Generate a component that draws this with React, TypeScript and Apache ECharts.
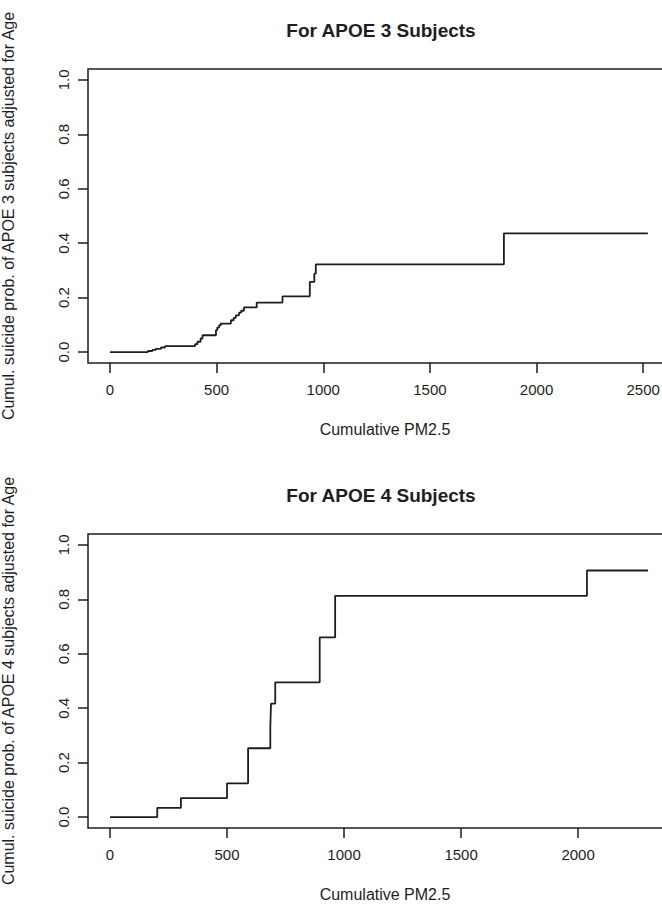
import React, { useEffect, useRef } from "react";
import * as echarts from "echarts";

// Step curve of APOE 3 subjects (x = cumulative PM2.5, y = cumulative probability)
const apoe3X = [0, 178, 199, 215, 239, 258, 399, 410, 425, 434, 497, 503, 512, 520, 567, 580, 590, 605, 615, 628, 688, 809, 937, 958, 965, 1847, 2522];
const apoe3Y = [0, 0.004, 0.008, 0.012, 0.017, 0.022, 0.029, 0.038, 0.05, 0.062, 0.081, 0.09, 0.099, 0.105, 0.117, 0.126, 0.135, 0.145, 0.152, 0.164, 0.182, 0.205, 0.258, 0.288, 0.322, 0.436, 0.436];

// Step curve of APOE 4 subjects
const apoe4X = [0, 202, 303, 500, 590, 685, 688, 706, 896, 962, 2038, 2299];
const apoe4Y = [0, 0.034, 0.07, 0.124, 0.253, 0.334, 0.417, 0.495, 0.66, 0.813, 0.906, 0.906];

const xTicks3 = [0, 500, 1000, 1500, 2000, 2500];
const xTicks4 = [0, 500, 1000, 1500, 2000];
const yTicks = [0, 0.2, 0.4, 0.6, 0.8, 1.0];

const titles = ["For APOE 3 Subjects", "For APOE 4 Subjects"];
const yNames = [
  "Cumul. suicide prob. of APOE 3 subjects adjusted for Age",
  "Cumul. suicide prob. of APOE 4 subjects adjusted for Age",
];
const xName = "Cumulative PM2.5";

const FONT = "'Liberation Sans', Arial, Helvetica, sans-serif";
const INK = "#1e1e1e";

export default function App() {
  const ref = useRef<HTMLDivElement>(null);

  useEffect(() => {
    if (!ref.current) return;
    const chart = echarts.init(ref.current, undefined, { renderer: "svg" });

    const grids = [
      { left: 88, top: 69, width: 594, height: 294 },
      { left: 88, top: 534, width: 594, height: 294 },
    ];

    const xRanges = [
      { min: -103, max: 2682, ticks: xTicks3 },
      { min: -94, max: 2444, ticks: xTicks4 },
    ];

    const option: any = {
      animation: false,
      backgroundColor: "#ffffff",
      title: titles.map((t, i) => ({
        text: t,
        left: 381,
        top: i === 0 ? 21 : 486,
        padding: 0,
        textAlign: "center",
        textStyle: { fontFamily: FONT, fontSize: 19, fontWeight: "bold", color: INK },
      })),
      grid: grids.map((g) => ({
        ...g,
        show: true,
        borderColor: INK,
        borderWidth: 1.5,
        backgroundColor: "transparent",
        containLabel: false,
        outerBoundsMode: "none",
      })),
      xAxis: xRanges.map((r, i) => ({
        type: "value",
        gridIndex: i,
        position: "bottom",
        min: r.min,
        max: r.max,
        name: xName,
        nameLocation: "middle",
        nameGap: 58,
        nameTextStyle: { fontFamily: FONT, fontSize: 16, color: INK },
        splitLine: { show: false },
        axisLine: { show: false, onZero: false },
        axisTick: {
          show: true,
          customValues: r.ticks,
          length: 10,
          inside: false,
          lineStyle: { color: INK, width: 1.5 },
        },
        axisLabel: {
          show: true,
          customValues: r.ticks,
          margin: 19,
          fontFamily: FONT,
          fontSize: 15,
          color: INK,
          formatter: (v: number) => String(v),
        },
      })),
      yAxis: [0, 1].map((i) => ({
        type: "value",
        gridIndex: i,
        position: "left",
        min: -0.04,
        max: 1.04,
        name: yNames[i],
        nameLocation: "middle",
        nameRotate: 90,
        nameGap: 72,
        nameTextStyle: { fontFamily: FONT, fontSize: 16, color: INK },
        splitLine: { show: false },
        axisLine: { show: false, onZero: false },
        axisTick: {
          show: true,
          customValues: yTicks,
          length: 10,
          lineStyle: { color: INK, width: 1.5 },
        },
        axisLabel: {
          show: true,
          customValues: yTicks,
          rotate: 90,
          margin: 17,
          fontFamily: FONT,
          fontSize: 15,
          color: INK,
          formatter: (v: number) => v.toFixed(1),
        },
      })),
      series: [
        {
          type: "line",
          xAxisIndex: 0,
          yAxisIndex: 0,
          step: "end",
          symbol: "none",
          lineStyle: { color: INK, width: 1.8 },
          data: apoe3X.map((x, k) => [x, apoe3Y[k]]),
        },
        {
          type: "line",
          xAxisIndex: 1,
          yAxisIndex: 1,
          step: "end",
          symbol: "none",
          lineStyle: { color: INK, width: 1.8 },
          data: apoe4X.map((x, k) => [x, apoe4Y[k]]),
        },
      ],
    };

    chart.setOption(option);
    return () => chart.dispose();
  }, []);

  return (
    <div
      ref={ref}
      style={{ position: "fixed", left: 0, top: 0, width: 720, height: 907, background: "#fff" }}
    />
  );
}
